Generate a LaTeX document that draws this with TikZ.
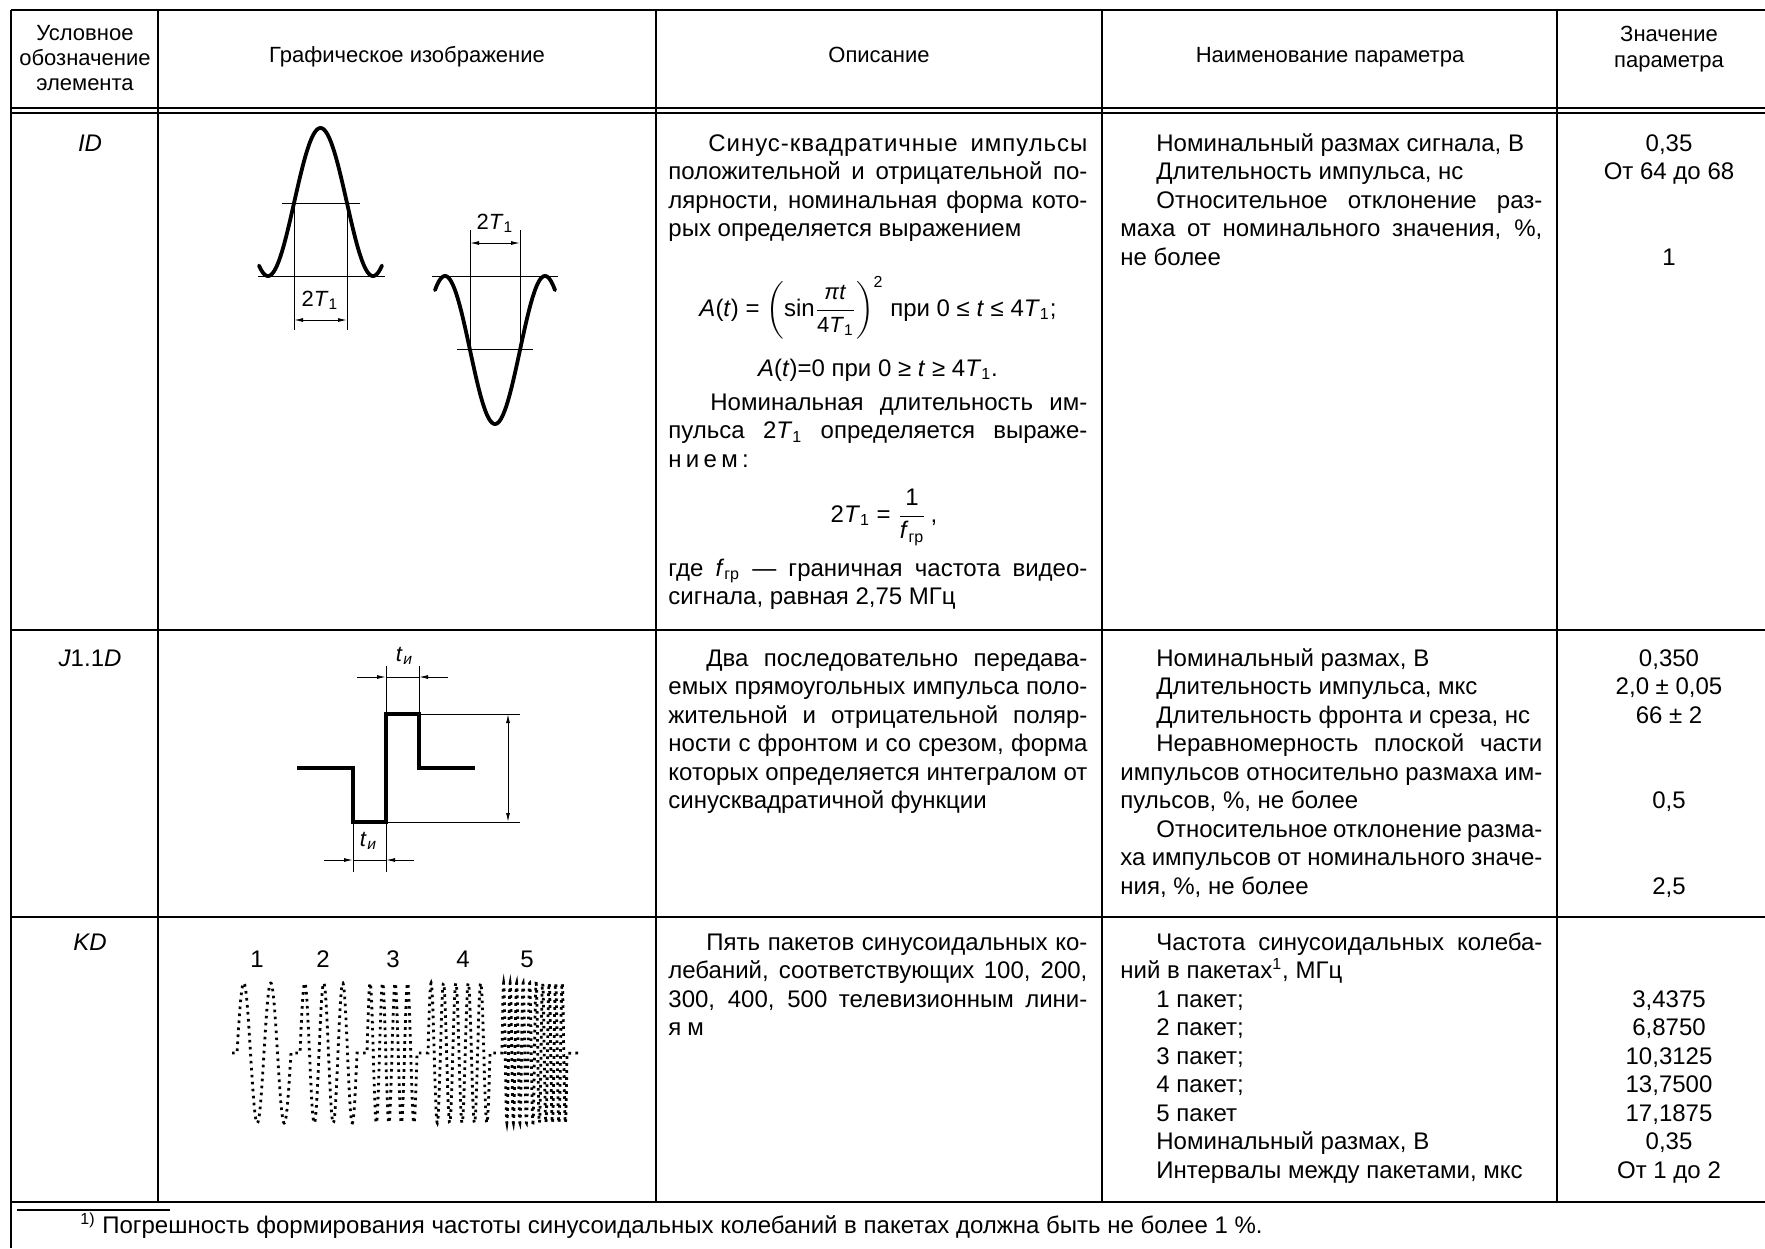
\documentclass[tikz,border=0pt]{standalone}
\usepackage{fontspec}
\usepackage{amsmath}
\setmainfont{Liberation Sans}
\newfontfamily\slsans[FakeSlant=0.2]{Liberation Sans}
\usetikzlibrary{arrows.meta}
\newlength\indw
\newcommand{\tjl}[1]{\noindent\makebox[\linewidth][s]{#1}\par}
\newcommand{\tji}[1]{\noindent\hspace*{\indw}\makebox[\dimexpr\linewidth-\indw\relax][s]{#1}\par}
\newcommand{\trl}[1]{\noindent #1\par}
\newcommand{\tri}[1]{\noindent\hspace*{\indw}#1\par}
\newcommand{\bodyfont}{\fontsize{12}{14.25}\selectfont}
\tikzset{
  tabline/.style={line width=1pt},
  hdline/.style={line width=0.7pt},
  thinln/.style={line width=0.5pt},
  wave/.style={line width=1.9pt, line join=round, line cap=round},
  sqwave/.style={line width=1.6pt, line join=miter},
  kdwave/.style={line width=1.4pt, dash pattern=on 1.3pt off 2.2pt},
  dimarr/.style={line width=0.5pt, {Latex[length=4.5pt,width=2pt]}-{Latex[length=4.5pt,width=2pt]}},
  inarr/.style={line width=0.5pt, -{Latex[length=4.5pt,width=2pt]}},
  body/.style={inner sep=0pt, anchor=base west, font=\bodyfont},
  val/.style={inner sep=0pt, anchor=base, font=\bodyfont},
  hdr/.style={inner sep=0pt, anchor=base, font=\fontsize{11}{12.5}\selectfont},
  lab/.style={inner sep=0pt, anchor=base, font=\fontsize{11}{13}\selectfont},
}
\begin{document}
\begin{tikzpicture}[x=0.5pt,y=-0.5pt]
\useasboundingbox (0,0) rectangle (1765,1248);
\fill[white] (0,0) rectangle (1765,1248);

% ---------- table rules ----------
\draw[tabline] (11,10) -- (1765,10);
\draw[hdline] (11,108) -- (1765,108);
\draw[hdline] (11,113) -- (1765,113);
\draw[tabline] (11,630) -- (1765,630);
\draw[tabline] (11,917) -- (1765,917);
\draw[tabline] (11,1202) -- (1765,1202);
\draw[tabline] (11,10) -- (11,1248);
\foreach \cx in {158,656,1102,1557} \draw[tabline] (\cx,10) -- (\cx,1202);
\draw[line width=1pt] (17,1210) -- (170,1210);

% ---------- header ----------
\node[hdr] (h0a) at (85,40) {Условное};
\node[hdr] (h0b) at (85,65) {обозначение};
\node[hdr] (h0c) at (85,90) {элемента};
\node[hdr] (h1) at (407,62) {Графическое изображение};
\node[hdr] (h2) at (879,62) {Описание};
\node[hdr] (h3) at (1330,62) {Наименование параметра};
\node[hdr] (h4a) at (1669,41) {Значение};
\node[hdr] (h4b) at (1669,67) {параметра};

% ---------- column 0 ----------
\node[val] (r1) at (90,151) {\textit{ID}};
\node[val] (r2) at (90,666) {\textit{J}1.1\textit{D}};
\node[val] (r3) at (90,950) {\textit{KD}};

% ---------- row 1 : graphics ----------
\draw[thinln] (258,276) -- (385,276);
\draw[thinln] (282,203) -- (360,203);
\draw[thinln] (294,203) -- (294,330);
\draw[thinln] (347,203) -- (347,330);
\draw[dimarr] (294,320) -- (347,320);
\node[lab] (l2t1a) at (320,306) {2\textit{T}\textsubscript{1}};
\draw[wave] plot[domain=-9:114, samples=140] ({268+\x}, {276-148*sin(\x/105*180)*sin(\x/105*180)});

\draw[thinln] (432,276) -- (558,276);
\draw[thinln] (457,349) -- (533,349);
\draw[thinln] (470,230) -- (470,349);
\draw[thinln] (520,230) -- (520,349);
\draw[dimarr] (470,243) -- (520,243);
\node[lab] (l2t1b) at (495,229) {2\textit{T}\textsubscript{1}};
\draw[wave] plot[domain=-10:110, samples=140] ({445+\x}, {276+148*sin(\x/100*180)*sin(\x/100*180)});

% ---------- row 1 : description ----------
\node[body] (d1a) at (668,151) {\parbox[t]{209.5pt}{\bodyfont\setlength\indw{20pt}%
\tji{{\addfontfeature{LetterSpace=4}Синус-квадратичные импульсы}}%
\tjl{положительной и отрицательной по-}%
\tjl{лярности, номинальная форма кото-}%
\trl{рых определяется выражением}}};
\node[val] (f1) at (878,316) {\textit{A}(\textit{t}) = $\biggl(\text{sin}\dfrac{\text{\fontsize{11}{12}\selectfont\textit{π}\textit{t}}}{\text{\fontsize{11}{12}\selectfont 4\textit{T}\textsubscript{1}}}\biggr)^{\text{2}}$ при 0 ≤ \textit{t} ≤ 4\textit{T}\textsubscript{1};};
\node[val] (f2) at (878,376) {\textit{A}(\textit{t})=0 при 0 ≥ \textit{t} ≥ 4\textit{T}\textsubscript{1}.};
\node[body] (d1b) at (668,410) {\parbox[t]{209.5pt}{\bodyfont\setlength\indw{21pt}%
\tji{Номинальная длительность им-}%
\tjl{пульса 2\textit{T}\textsubscript{1} определяется выраже-}%
\trl{{\addfontfeature{LetterSpace=18}нием:}}}};
\node[val] (f3) at (884,522) {2\textit{T}\textsubscript{1} = $\dfrac{\text{1}}{\text{\textit{f}\textsubscript{гр}}}$\,,};
\node[body] (d1c) at (668,576) {\parbox[t]{209.5pt}{\bodyfont\setlength\indw{20pt}%
\tjl{где \textit{f}\textsubscript{гр} — граничная частота видео-}%
\trl{сигнала, равная 2,75 МГц}}};

% ---------- row 1 : parameters ----------
\node[body] (p1) at (1120,151) {\parbox[t]{211pt}{\bodyfont\setlength\indw{18pt}%
\tri{Номинальный размах сигнала, В}%
\tri{Длительность импульса, нс}%
\tji{Относительное отклонение раз-}%
\tjl{маха от номинального значения, \%,}%
\trl{не более}}};
\node[val] (v1a) at (1669,151) {0,35};
\node[val] (v1b) at (1669,179.5) {От 64 до 68};
\node[val] (v1c) at (1669,265) {1};

% ---------- row 2 : graphics ----------
\draw[thinln] (419,714) -- (520,714);
\draw[thinln] (386,822) -- (520,822);
\draw[dimarr] (508,714) -- (508,822);
\draw[thinln] (386,666) -- (386,714);
\draw[thinln] (419,666) -- (419,714);
\draw[thinln] (386,677) -- (419,677);
\draw[inarr] (357,677) -- (386,677);
\draw[inarr] (448,677) -- (419,677);
\node[lab] (ltu1) at (404,661) {\textit{t}\textsubscript{\slsans и}};
\draw[thinln] (353,822) -- (353,872);
\draw[thinln] (386,822) -- (386,872);
\draw[thinln] (353,860) -- (386,860);
\draw[inarr] (324,860) -- (353,860);
\draw[inarr] (414,860) -- (386,860);
\node[lab] (ltu2) at (368,846) {\textit{t}\textsubscript{\slsans и}};
\draw[sqwave] (297,768) -- (353,768) -- (353,822) -- (386,822) -- (386,714) -- (419,714) -- (419,768) -- (475,768);

% ---------- row 2 : description ----------
\node[body] (d2) at (668,666) {\parbox[t]{209.5pt}{\bodyfont\setlength\indw{19pt}%
\tji{Два последовательно передава-}%
\tjl{емых прямоугольных импульса поло-}%
\tjl{жительной и отрицательной поляр-}%
\tjl{ности с фронтом и со срезом, форма}%
\tjl{которых определяется интегралом от}%
\trl{синусквадратичной функции}}};

% ---------- row 2 : parameters ----------
\node[body] (p2) at (1120,666) {\parbox[t]{211pt}{\bodyfont\setlength\indw{18pt}%
\tri{Номинальный размах, В}%
\tri{Длительность импульса, мкс}%
\tri{Длительность фронта и среза, нс}%
\tji{Неравномерность плоской части}%
\tjl{импульсов относительно размаха им-}%
\trl{пульсов, \%, не более}%
\tji{Относительное отклонение разма-}%
\tjl{ха импульсов от номинального значе-}%
\trl{ния, \%, не более}}};
\node[val] (v2a) at (1669,666) {0,350};
\node[val] (v2b) at (1669,694.5) {2,0 ± 0,05};
\node[val] (v2c) at (1669,723) {66 ± 2};
\node[val] (v2d) at (1669,808.5) {0,5};
\node[val] (v2e) at (1669,894) {2,5};

% ---------- row 3 : graphics ----------
\node[val] (k1) at (257,967) {1};
\node[val] (k2) at (323,967) {2};
\node[val] (k3) at (393,967) {3};
\node[val] (k4) at (463,967) {4};
\node[val] (k5) at (527,967) {5};
\draw[kdwave] (232,1053) -- (237,1053)
  -- plot[domain=237:291, samples=120] (\x, {1053-70*sin((\x-237)/27*360)})
  -- (300,1053)
  -- plot[domain=300:357, samples=150] (\x, {1053-70*sin((\x-300)/19*360)})
  -- (367,1053)
  -- plot[domain=367:417, samples=160] (\x, {1053-70*sin((\x-367)/12.5*360)})
  -- (428,1053)
  -- plot[domain=428:490, samples=200] (\x, {1053-70*sin((\x-428)/12.4*360)})
  -- (502,1053)
  -- plot[domain=502:567, samples=320] (\x, {1053-70*sin((\x-502)/6.5*360)})
  -- (580,1053);

% ---------- row 3 : description ----------
\node[body] (d3) at (668,950) {\parbox[t]{209.5pt}{\bodyfont\setlength\indw{19pt}%
\tji{Пять пакетов синусоидальных ко-}%
\tjl{лебаний, соответствующих 100, 200,}%
\tjl{300, 400, 500 телевизионным лини-}%
\trl{{\addfontfeature{LetterSpace=25}ям}}}};

% ---------- row 3 : parameters ----------
\node[body] (p3) at (1120,950) {\parbox[t]{211pt}{\bodyfont\setlength\indw{18pt}%
\tji{Частота синусоидальных колеба-}%
\trl{ний в пакетах\textsuperscript{1}, МГц}%
\tri{1 пакет;}%
\tri{2 пакет;}%
\tri{3 пакет;}%
\tri{4 пакет;}%
\tri{5 пакет}%
\tri{Номинальный размах, В}%
\tri{Интервалы между пакетами, мкс}}};
\node[val] (v3a) at (1669,1007) {3,4375};
\node[val] (v3b) at (1669,1035.5) {6,8750};
\node[val] (v3c) at (1669,1064) {10,3125};
\node[val] (v3d) at (1669,1092.5) {13,7500};
\node[val] (v3e) at (1669,1121) {17,1875};
\node[val] (v3f) at (1669,1149.5) {0,35};
\node[val] (v3g) at (1669,1178) {От 1 до 2};

% ---------- footnote ----------
\node[body] (fn) at (80,1233) {\textsuperscript{1)} Погрешность формирования частоты синусоидальных колебаний в пакетах должна быть не более 1~\%.};
\end{tikzpicture}
\end{document}
